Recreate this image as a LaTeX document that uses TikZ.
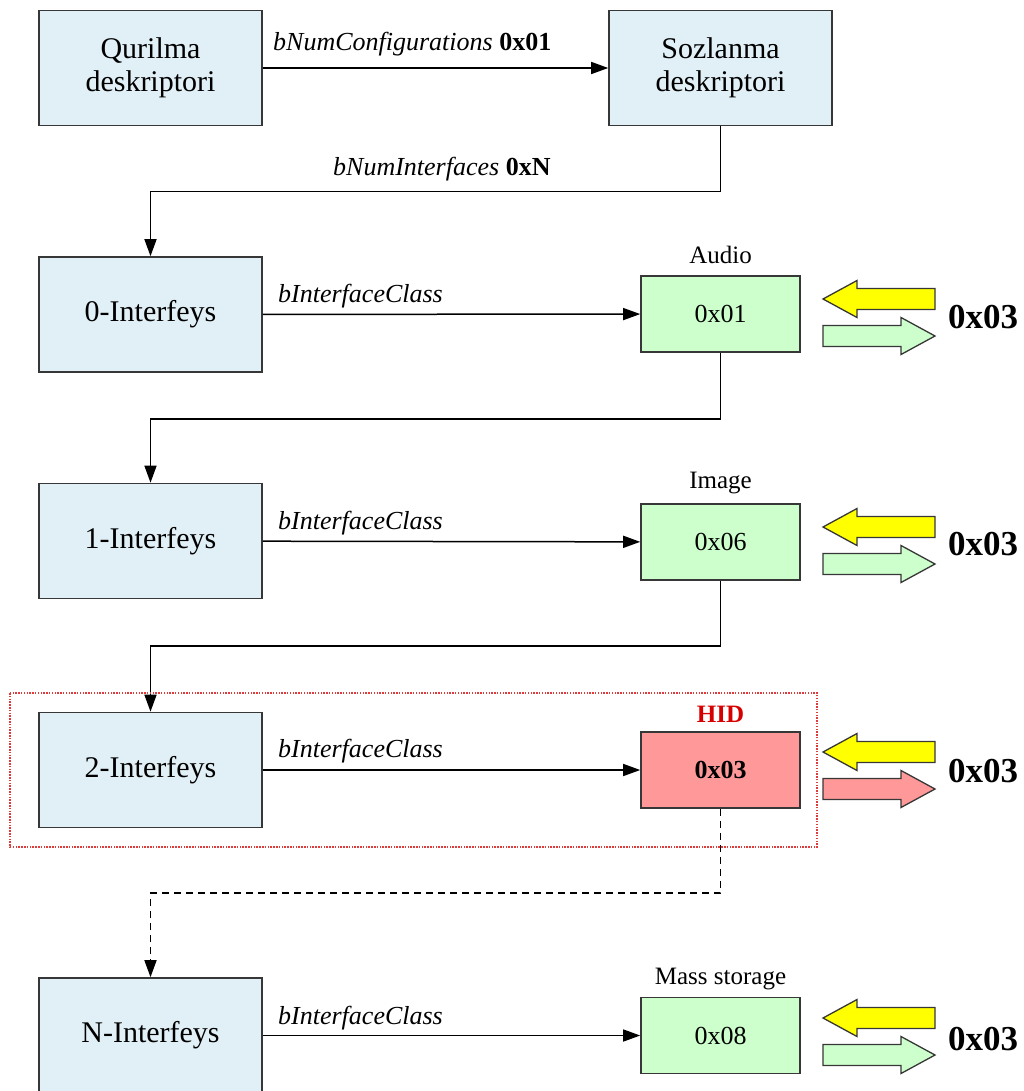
\documentclass[tikz,border=0pt]{standalone}
\usepackage{fontspec}
\setmainfont{Liberation Serif}
\usetikzlibrary{arrows.meta}

\definecolor{descblue}{RGB}{225,240,247}
\definecolor{clsgreen}{RGB}{204,255,204}
\definecolor{hidfill}{RGB}{255,153,153}
\definecolor{hidtext}{RGB}{215,0,0}
\definecolor{hidframe}{RGB}{220,60,60}
\definecolor{edge}{RGB}{55,55,55}
\definecolor{arrowyellow}{RGB}{255,255,0}

\tikzset{
  mainbox/.style={draw=edge, fill=descblue, line width=1.6pt, minimum width=223pt,
    minimum height=115pt, inner sep=0pt, align=center,
    font=\fontsize{30}{33}\selectfont},
  clsbox/.style={draw=edge, fill=clsgreen, line width=1.6pt, minimum width=159pt,
    minimum height=76pt, inner sep=0pt, font=\fontsize{26}{28}\selectfont},
  clsname/.style={inner sep=0pt, font=\fontsize{25}{27}\selectfont},
  edgelabel/.style={inner sep=0pt, anchor=west, font=\fontsize{26}{28}\selectfont\itshape},
  conn/.style={draw=black, line width=1.5pt, -{Triangle[length=17pt,width=12pt]}},
  dashconn/.style={conn, dash pattern=on 7pt off 5pt},
  bigcode/.style={inner sep=0pt, font=\fontsize{35}{38}\selectfont\bfseries},
  blkarrow/.style={draw=edge, line width=1.3pt, line join=miter},
  pics/leftblk/.style={code={
    \draw[blkarrow, fill=#1] (-56,0) -- (-22,-18.5) -- (-22,-10.5) -- (56,-10.5)
      -- (56,10.5) -- (-22,10.5) -- (-22,18.5) -- cycle;}},
  pics/rightblk/.style={code={
    \draw[blkarrow, fill=#1] (56,0) -- (22,-18.5) -- (22,-10.5) -- (-56,-10.5)
      -- (-56,10.5) -- (22,10.5) -- (22,18.5) -- cycle;}},
}

\begin{document}
\begin{tikzpicture}[x=1pt, y=-1pt]
\useasboundingbox (0,0) rectangle (1023,1091);

% descriptors
\node[mainbox] (dev) at (150.5,68) {Qurilma\\deskriptori};
\node[mainbox] (cfg) at (720.5,68) {Sozlanma\\deskriptori};
\draw[conn] (dev) -- (cfg);
\node[edgelabel] (lcfg) at (273,44) {bNumConfigurations \textup{\bfseries 0x01}};

% interfaces
\node[mainbox] (if0) at (150.5,314.5) {0-Interfeys};
\node[mainbox] (if1) at (150.5,541) {1-Interfeys};
\node[mainbox] (if2) at (150.5,770) {2-Interfeys};
\node[mainbox] (ifN) at (150.5,1035.5) {N-Interfeys};

\draw[conn] (cfg.south) -- ++(0,65) -| (if0.north);
\node[edgelabel] (lint) at (333,169) {bNumInterfaces \textup{\bfseries 0xN}};

% class codes
\node[clsbox] (audio) at (720.5,314) {0x01};
\node[clsbox] (image) at (720.5,542) {0x06};
\node[clsbox, fill=hidfill, font=\fontsize{26}{28}\selectfont\bfseries] (hid) at (720.5,770) {0x03};
\node[clsbox] (mass) at (720.5,1035.5) {0x08};

\node[clsname] (naudio) at (720.5,255) {Audio};
\node[clsname] (nimage) at (720.5,483) {Image};
\node[clsname, text=hidtext, font=\fontsize{25}{27}\selectfont\bfseries] (nhid) at (720.5,714) {HID};
\node[clsname] (nmass) at (720.5,979) {Mass storage};

% interface -> class
\draw[conn] (if0) -- (audio);
\node[edgelabel] (l0) at (278,296) {bInterfaceClass};
\draw[conn] (if1) -- (image);
\node[edgelabel] (l1) at (278,523) {bInterfaceClass};
\draw[conn] (if2) -- (hid);
\node[edgelabel] (l2) at (278,751) {bInterfaceClass};
\draw[conn] (ifN) -- (mass);
\node[edgelabel] (lN) at (278,1018) {bInterfaceClass};

% chaining to the next interface
\draw[conn] (audio.south) -- ++(0,66) -| (if1.north);
\draw[conn] (image.south) -- ++(0,65) -| (if2.north);
\draw[dashconn] (hid.south) -- ++(0,84) -| (ifN.north);

% highlighted HID interface
\draw[hidframe, line width=1.3pt, dash pattern=on 1.5pt off 1.3pt] (10,693) rectangle (817,847);

% request / response arrows
\pic at (879,299) {leftblk=arrowyellow};
\pic at (879,336) {rightblk=clsgreen};
\node[bigcode] (c0) at (983,317) {0x03};

\pic at (879,527) {leftblk=arrowyellow};
\pic at (879,564) {rightblk=clsgreen};
\node[bigcode] (c1) at (983,544) {0x03};

\pic at (879,752) {leftblk=arrowyellow};
\pic at (879,789) {rightblk=hidfill};
\node[bigcode] (c2) at (983,771) {0x03};

\pic at (879,1018) {leftblk=arrowyellow};
\pic at (879,1055) {rightblk=clsgreen};
\node[bigcode] (cN) at (983,1039) {0x03};
\end{tikzpicture}
\end{document}
